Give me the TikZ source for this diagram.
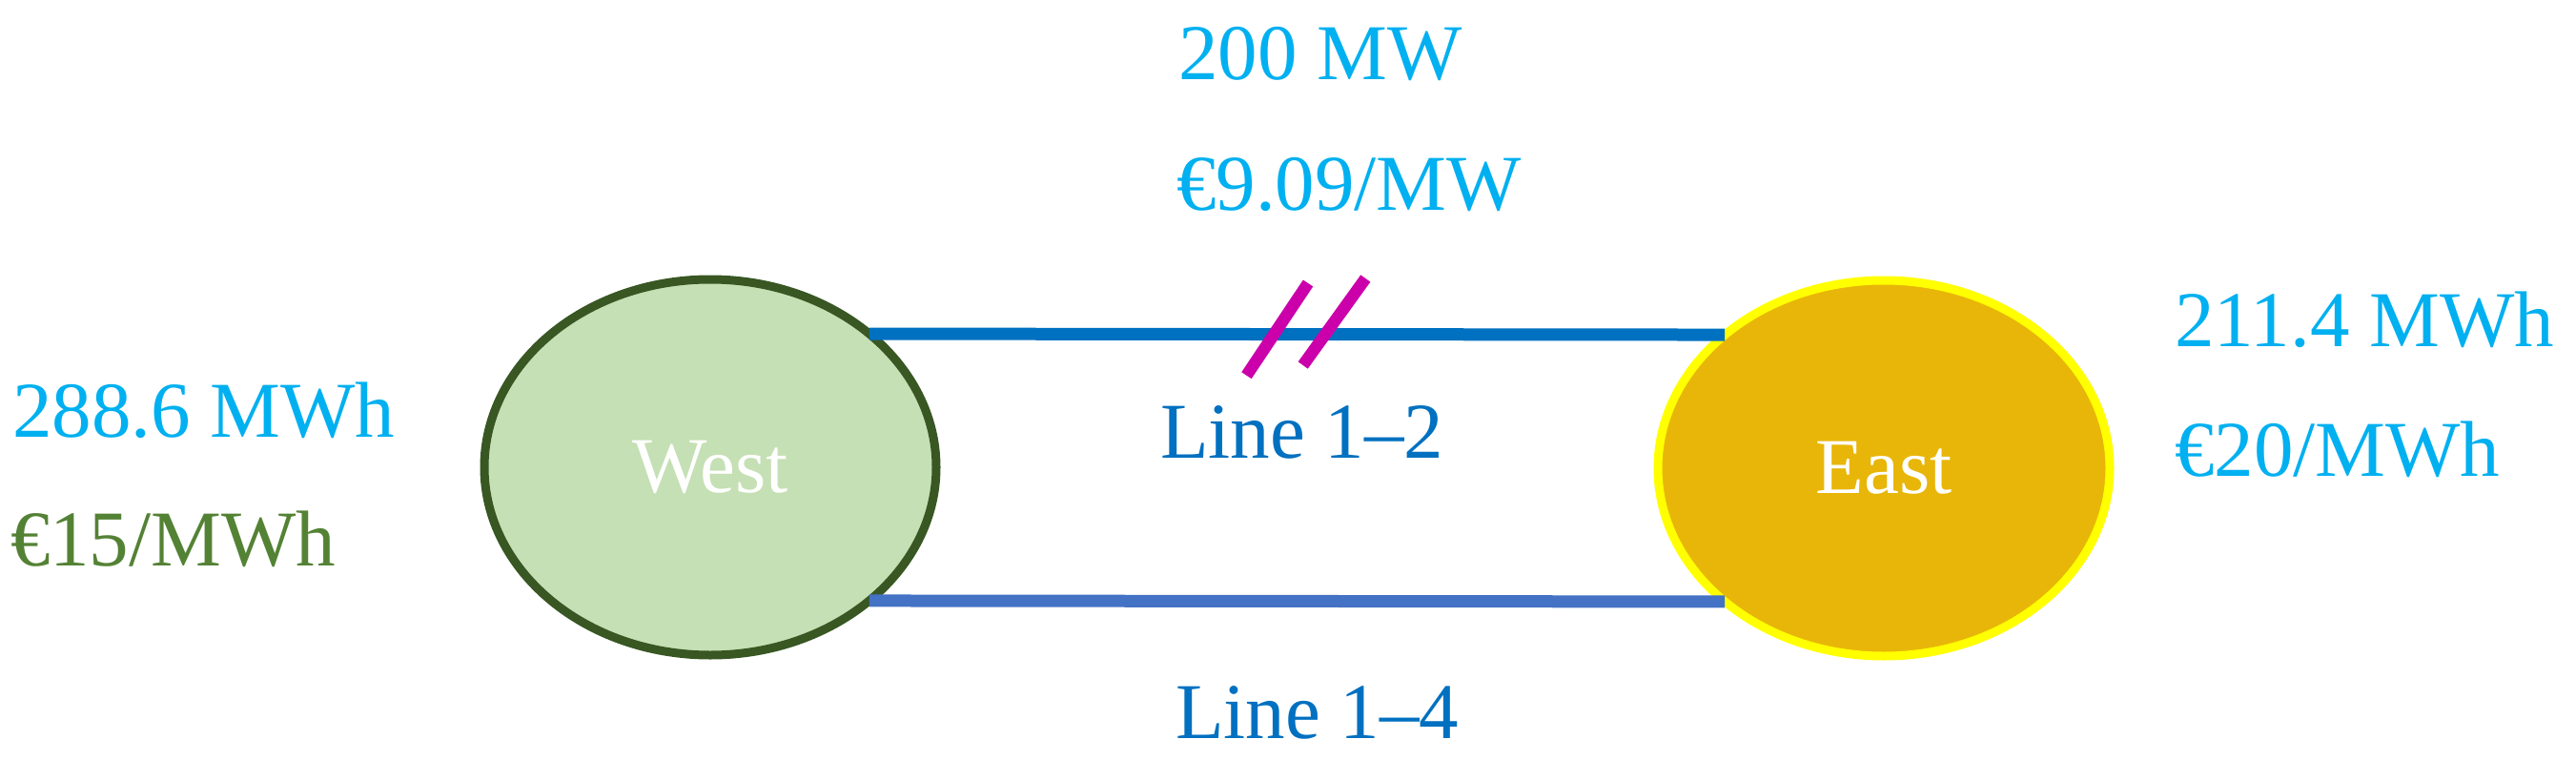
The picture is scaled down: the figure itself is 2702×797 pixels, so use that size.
\documentclass[tikz,border=0pt]{standalone}
\usepackage{fontspec}
\setmainfont{Liberation Serif}
\usetikzlibrary{shapes.geometric}
\definecolor{westfill}{HTML}{C5E0B4}
\definecolor{westline}{HTML}{385723}
\definecolor{eastfill}{HTML}{E8B608}
\definecolor{eastline}{HTML}{FFFF00}
\definecolor{lineA}{HTML}{0070C0}
\definecolor{lineB}{HTML}{4472C4}
\definecolor{txtblue}{HTML}{00B0F0}
\definecolor{txtgreen}{HTML}{548235}
\definecolor{slashcol}{HTML}{CC00AA}
\begin{document}
\begin{tikzpicture}[x=1pt,y=-1pt,
  big/.style={font=\fontsize{83}{100}\selectfont, inner sep=0pt, outer sep=0pt},
  lbl/.style={big, anchor=base west},
  zone/.style={ellipse, big, minimum width=474pt, minimum height=394pt, line width=9pt, text=white},
  tie/.style={line width=13pt},
  cut/.style={draw=slashcol, line width=12.5pt}]
\useasboundingbox (0,0) rectangle (2702,797);
\node[zone, draw=westline, fill=westfill] (west) at (745,490) {West};
\node[zone, draw=eastline, fill=eastfill] (east) at (1976,491) {East};
\draw[tie, draw=lineA] (west.40) -- (east.140);
\draw[tie, draw=lineB] (west.-40) -- (east.-140);
\draw[cut] (1307.5,393.7) -- (1372,297);
\draw[cut] (1366.7,383) -- (1432.3,292);
\node[lbl, text=txtblue] (cap) at (1236,84) {200 MW};
\node[lbl, text=txtblue] (price) at (1234,220) {€9.09/MW};
\node[lbl, text=lineA] (l12) at (1217,480) {Line 1–2};
\node[lbl, text=lineA] (l14) at (1233,774) {Line 1–4};
\node[lbl, text=txtblue] (wq) at (13,458) {288.6 MWh};
\node[lbl, text=txtgreen] (wp) at (11,593) {€15/MWh};
\node[lbl, text=txtblue] (eq) at (2281,363) {211.4 MWh};
\node[lbl, text=txtblue] (ep) at (2281,499) {€20/MWh};
\end{tikzpicture}
\end{document}
